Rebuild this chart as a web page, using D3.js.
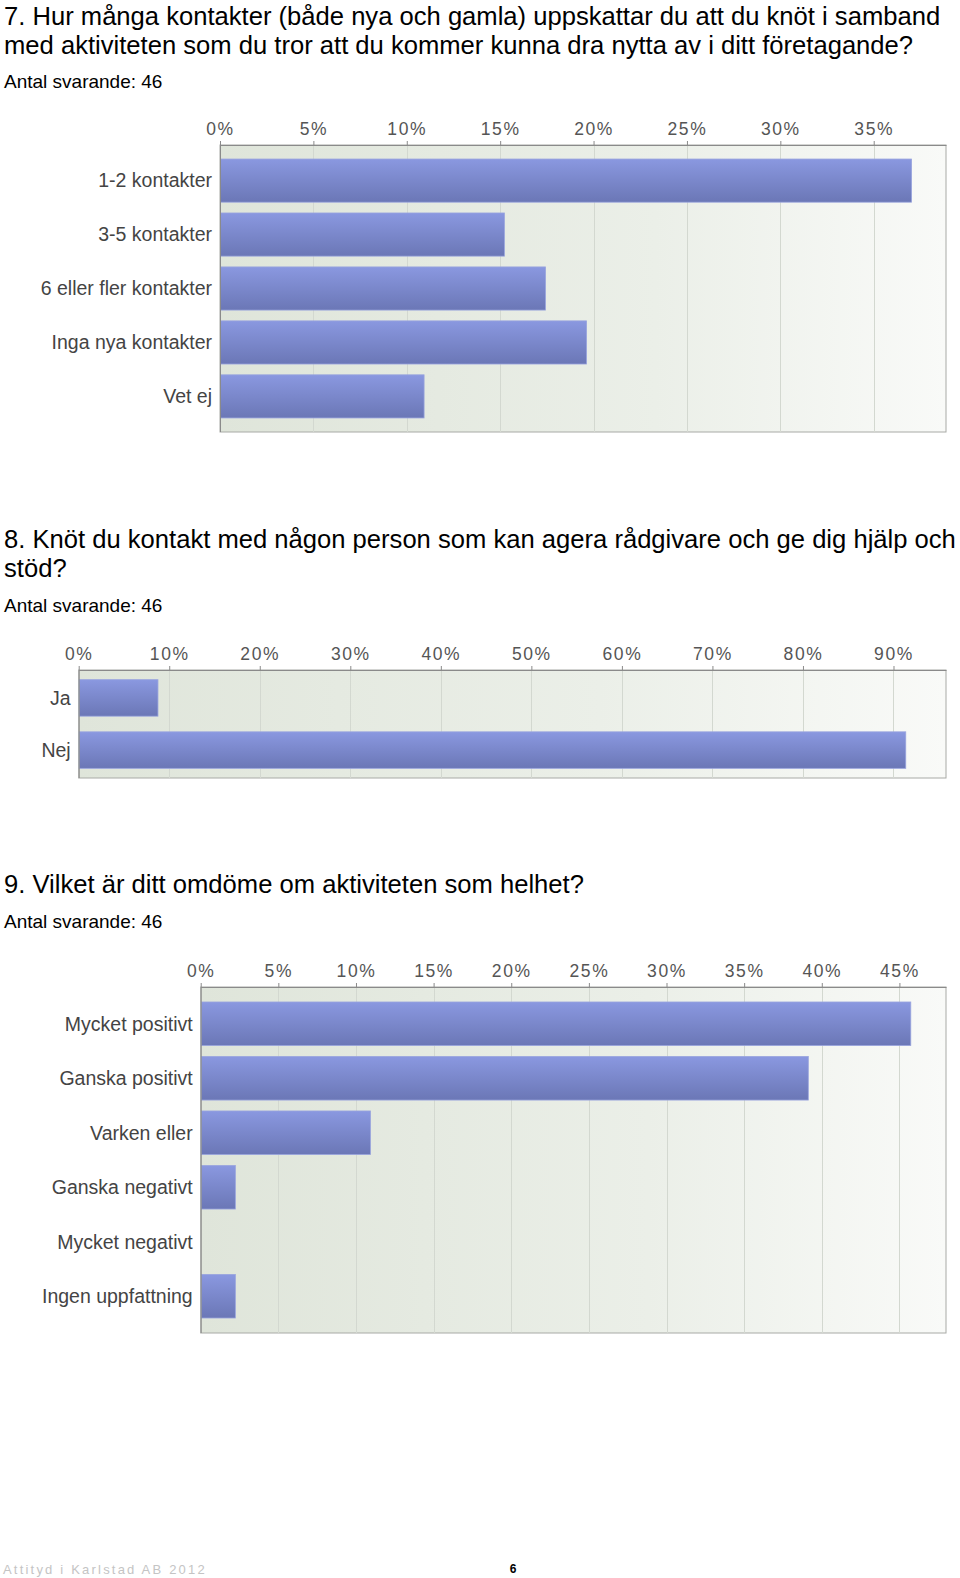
<!DOCTYPE html>
<html>
<head>
<meta charset="utf-8">
<script src="https://cdnjs.cloudflare.com/ajax/libs/d3/7.8.5/d3.min.js"></script>
<style>
  html, body { margin: 0; padding: 0; background: #fff; }
  svg { display: block; }
  text { font-family: "Liberation Sans", Arial, sans-serif; }
</style>
</head>
<body>
<svg id="chart" width="960" height="1578"></svg>
<script>
// ---------- data ----------
const q7Title = ["7. Hur många kontakter (både nya och gamla) uppskattar du att du knöt i samband",
                 "med aktiviteten som du tror att du kommer kunna dra nytta av i ditt företagande?"];
const q7Categories = ["1-2 kontakter", "3-5 kontakter", "6 eller fler kontakter", "Inga nya kontakter", "Vet ej"];
const q7Values = [37.0, 15.2, 17.4, 19.6, 10.9];
const q7Ticks = [0, 5, 10, 15, 20, 25, 30, 35];

const q8Title = ["8. Knöt du kontakt med någon person som kan agera rådgivare och ge dig hjälp och",
                 "stöd?"];
const q8Categories = ["Ja", "Nej"];
const q8Values = [8.7, 91.3];
const q8Ticks = [0, 10, 20, 30, 40, 50, 60, 70, 80, 90];

const q9Title = ["9. Vilket är ditt omdöme om aktiviteten som helhet?"];
const q9Categories = ["Mycket positivt", "Ganska positivt", "Varken eller", "Ganska negativt", "Mycket negativt", "Ingen uppfattning"];
const q9Values = [45.7, 39.1, 10.9, 2.2, 0, 2.2];
const q9Ticks = [0, 5, 10, 15, 20, 25, 30, 35, 40, 45];

const respondents = "Antal svarande: 46";
const footerText = "Attityd i Karlstad AB 2012";
const pageNumber = "6";

// ---------- drawing ----------
const svg = d3.select("#chart");
const defs = svg.append("defs");

const bg = defs.append("linearGradient").attr("id", "plotBg")
  .attr("x1", "0%").attr("x2", "100%").attr("y1", "0%").attr("y2", "0%");
bg.append("stop").attr("offset", "0%").attr("stop-color", "#dfe5da");
bg.append("stop").attr("offset", "60%").attr("stop-color", "#ebefe8");
bg.append("stop").attr("offset", "100%").attr("stop-color", "#f9faf8");

const barG = defs.append("linearGradient").attr("id", "barFill")
  .attr("x1", "0%").attr("x2", "0%").attr("y1", "0%").attr("y2", "100%");
barG.append("stop").attr("offset", "0%").attr("stop-color", "#8a98e0");
barG.append("stop").attr("offset", "100%").attr("stop-color", "#6b77b6");

function drawTitle(lines, baseline, subBaseline) {
  const t = svg.append("text").attr("x", 4).attr("y", baseline)
    .attr("font-size", 25.6).attr("fill", "#000");
  lines.forEach((l, i) => {
    t.append("tspan").attr("x", 4).attr("y", baseline + i * 29).text(l);
  });
  svg.append("text").attr("x", 4).attr("y", subBaseline)
    .attr("font-size", 19).attr("fill", "#000").text(respondents);
}

function drawChart(cfg) {
  const { categories, values, ticks, max, left, right, top, bottom, pInner, pOuter } = cfg;
  const g = svg.append("g");
  const x = d3.scaleLinear().domain([0, max]).range([left, right]);
  const y = d3.scaleBand().domain(categories).range([top, bottom])
    .paddingInner(pInner).paddingOuter(pOuter);

  // background
  g.append("rect").attr("x", left).attr("y", top)
    .attr("width", right - left).attr("height", bottom - top)
    .attr("fill", "url(#plotBg)").attr("stroke", "#a8aaa6").attr("stroke-width", 1);

  // grid lines
  g.selectAll("line.grid").data(ticks.filter(d => d > 0)).join("line")
    .attr("class", "grid")
    .attr("x1", d => Math.round(x(d)) + 0.5).attr("x2", d => Math.round(x(d)) + 0.5)
    .attr("y1", top).attr("y2", bottom)
    .attr("stroke", "#d3d8d0").attr("stroke-width", 1);

  // bars
  g.selectAll("rect.bar").data(categories.map((c, i) => ({ c, v: values[i] })).filter(d => d.v > 0))
    .join("rect").attr("class", "bar")
    .attr("x", left + 0.5)
    .attr("y", d => y(d.c))
    .attr("width", d => x(d.v) - left)
    .attr("height", y.bandwidth())
    .attr("fill", "url(#barFill)")
    .attr("stroke", "#9aa5de").attr("stroke-width", 0.8);

  // top axis
  const axis = d3.axisTop(x).tickValues(ticks).tickFormat(d => d + "%").tickSize(4).tickSizeOuter(0);
  const ax = g.append("g").attr("transform", `translate(0,${top})`).call(axis);
  ax.select(".domain").attr("stroke", "#8a8a8a");
  ax.selectAll(".tick line").attr("stroke", "#8a8a8a");
  ax.selectAll(".tick text").attr("font-size", 17.5).attr("fill", "#555")
    .attr("letter-spacing", 1.6).attr("dy", 0).attr("y", -10)
    .attr("font-family", "'Liberation Sans', Arial, sans-serif");

  // left axis line
  g.append("line").attr("x1", left + 0.5).attr("x2", left + 0.5).attr("y1", top).attr("y2", bottom)
    .attr("stroke", "#8a8a8a");

  // category labels
  g.selectAll("text.cat").data(categories).join("text").attr("class", "cat")
    .attr("x", left - 8).attr("y", d => y(d) + y.bandwidth() / 2)
    .attr("dy", "0.35em").attr("text-anchor", "end")
    .attr("font-size", 19.5).attr("fill", "#444").text(d => d);
}

drawTitle(q7Title, 25, 88);
drawChart({ categories: q7Categories, values: q7Values, ticks: q7Ticks, max: 38.87,
  left: 220, right: 946, top: 145, bottom: 432, pInner: 0.2, pOuter: 0.26 });

drawTitle(q8Title, 548, 612);
drawChart({ categories: q8Categories, values: q8Values, ticks: q8Ticks, max: 95.8,
  left: 78.7, right: 946, top: 670, bottom: 778, pInner: 0.3, pOuter: 0.185 });

drawTitle(q9Title, 893, 928);
drawChart({ categories: q9Categories, values: q9Values, ticks: q9Ticks, max: 48.0,
  left: 200.7, right: 946, top: 987, bottom: 1333, pInner: 0.2, pOuter: 0.275 });

// footer
svg.append("text").attr("x", 3).attr("y", 1574).attr("font-size", 13)
  .attr("letter-spacing", 2.2).attr("fill", "#c4c4c4").text(footerText);
svg.append("text").attr("x", 513).attr("y", 1573).attr("font-size", 12)
  .attr("font-weight", "bold").attr("text-anchor", "middle").attr("fill", "#000").text(pageNumber);
</script>
</body>
</html>
